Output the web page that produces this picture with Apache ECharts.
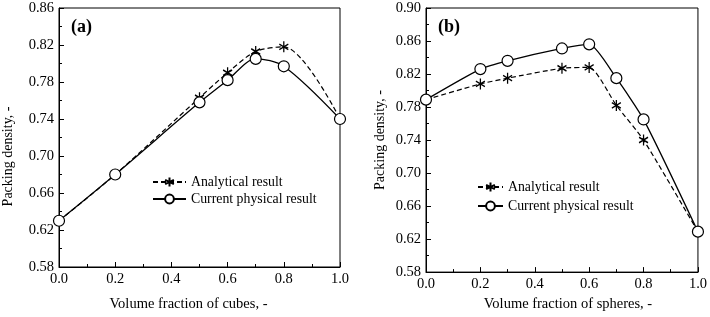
<!DOCTYPE html>
<html><head><meta charset="utf-8">
<script src="https://cdn.jsdelivr.net/npm/echarts@6/dist/echarts.min.js"></script>
<style>html,body{margin:0;padding:0;background:#fff}#c{width:710px;height:317px}</style>
</head><body><div id="c"></div>
<script>
// Panel (a): cubes
const xCubesAnalytical = [0.0, 0.2, 0.5, 0.6, 0.7, 0.8, 1.0];
const yCubesAnalytical = [0.630, 0.680, 0.763, 0.790, 0.813, 0.818, 0.740];
const xCubesPhysical = [0.0, 0.2, 0.5, 0.6, 0.7, 0.8, 1.0];
const yCubesPhysical = [0.630, 0.680, 0.758, 0.782, 0.805, 0.797, 0.740];
// Panel (b): spheres
const xSpheresAnalytical = [0.0, 0.2, 0.3, 0.5, 0.6, 0.7, 0.8, 1.0];
const ySpheresAnalytical = [0.789, 0.808, 0.815, 0.827, 0.828, 0.782, 0.740, 0.629];
const xSpheresPhysical = [0.0, 0.2, 0.3, 0.5, 0.6, 0.7, 0.8, 1.0];
const ySpheresPhysical = [0.789, 0.826, 0.836, 0.851, 0.856, 0.815, 0.765, 0.629];

const legendNames = ['Analytical result', 'Current physical result'];
const xNames = ['Volume fraction of cubes, -', 'Volume fraction of spheres, -'];
const yName = 'Packing density, -';
const panelLabels = ['(a)', '(b)'];

const zip = (xs, ys) => xs.map((x, i) => [x, ys[i]]);
const FONT = 'Liberation Serif';
const star = 'path://M0,-10L0,10M-8.66,-5L8.66,5M-8.66,5L8.66,-5';

function xAxis(idx, name, nameGap, namePad) {
  return {
    type: 'value', gridIndex: idx, min: 0, max: 1, interval: 0.2,
    name: name, nameLocation: 'middle', nameGap: nameGap,
    nameTextStyle: {fontFamily: FONT, fontSize: 14.5, color: '#000', padding: namePad},
    axisLine: {show: true, lineStyle: {color: '#000', width: 1}},
    axisTick: {show: true, inside: true, length: 5, lineStyle: {color: '#000'}},
    minorTick: {show: true, splitNumber: 2, length: 3, lineStyle: {color: '#000'}},
    axisLabel: {fontFamily: FONT, fontSize: 14.5, color: '#000', margin: 5, formatter: v => v.toFixed(1)},
    splitLine: {show: false}
  };
}
function yAxis(idx, min, max, nameGap, namePad) {
  return {
    type: 'value', gridIndex: idx, min: min, max: max, interval: 0.04,
    name: yName, nameLocation: 'middle', nameGap: nameGap, nameRotate: 90,
    nameTextStyle: {fontFamily: FONT, fontSize: 14, color: '#000', padding: namePad},
    axisLine: {show: true, lineStyle: {color: '#000', width: 1}},
    axisTick: {show: true, inside: true, length: 5, lineStyle: {color: '#000'}},
    minorTick: {show: true, splitNumber: 2, length: 3, lineStyle: {color: '#000'}},
    axisLabel: {fontFamily: FONT, fontSize: 14.5, color: '#000', margin: 5, formatter: v => v.toFixed(2)},
    splitLine: {show: false}
  };
}
function analytical(idx, data, smooth) {
  return {
    type: 'line', name: legendNames[0], xAxisIndex: idx, yAxisIndex: idx,
    data: data, smooth: smooth, symbol: star, symbolSize: [9, 11],
    lineStyle: {color: '#000', width: 1.2, type: [5, 3]},
    itemStyle: {color: '#000', borderColor: '#000', borderWidth: 1.4},
    z: 3
  };
}
function physical(idx, data, smooth) {
  return {
    type: 'line', name: legendNames[1], xAxisIndex: idx, yAxisIndex: idx,
    data: data, smooth: smooth, symbol: 'circle', symbolSize: 11,
    lineStyle: {color: '#000', width: 1.3, type: 'solid'},
    itemStyle: {color: '#fff', borderColor: '#000', borderWidth: 1.2},
    z: 4
  };
}
const chart = echarts.init(document.getElementById('c'), null, {renderer: 'canvas'});
chart.setOption({
  animation: false,
  backgroundColor: '#fff',
  title: [
    {text: panelLabels[0], left: 66, top: 13, textStyle: {fontFamily: FONT, fontSize: 18, fontWeight: 'bold', color: '#000'}},
    {text: panelLabels[1], left: 433, top: 13, textStyle: {fontFamily: FONT, fontSize: 18, fontWeight: 'bold', color: '#000'}}
  ],
  grid: [
    {left: 58, right: 370, top: 8, bottom: 49, show: true, borderColor: '#000', borderWidth: 1},
    {left: 426, right: 8, top: 8, bottom: 42, show: true, borderColor: '#000', borderWidth: 1}
  ],
  legend: [
    {data: legendNames, left: 147, top: 170, orient: 'vertical', itemWidth: 33, itemHeight: 11, itemGap: 3,
     textStyle: {fontFamily: FONT, fontSize: 13.8, color: '#000'}, selectedMode: false},
    {data: legendNames, left: 472, top: 175, orient: 'vertical', itemWidth: 25, itemHeight: 11, itemGap: 5,
     textStyle: {fontFamily: FONT, fontSize: 13.8, color: '#000'}, selectedMode: false}
  ],
  xAxis: [xAxis(0, xNames[0], 30, [0, 22, 0, 0]), xAxis(1, xNames[1], 22, [0, 0, 0, 12])],
  yAxis: [yAxis(0, 0.58, 0.86, 44, [0, 38, 0, 0]), yAxis(1, 0.58, 0.90, 39, [0, 0, 0, 0])],
  series: [
    analytical(0, zip(xCubesAnalytical, yCubesAnalytical), 0.3),
    physical(0, zip(xCubesPhysical, yCubesPhysical), 0.3),
    analytical(1, zip(xSpheresAnalytical, ySpheresAnalytical), 0.2),
    physical(1, zip(xSpheresPhysical, ySpheresPhysical), 0.2)
  ]
});
</script></body></html>
